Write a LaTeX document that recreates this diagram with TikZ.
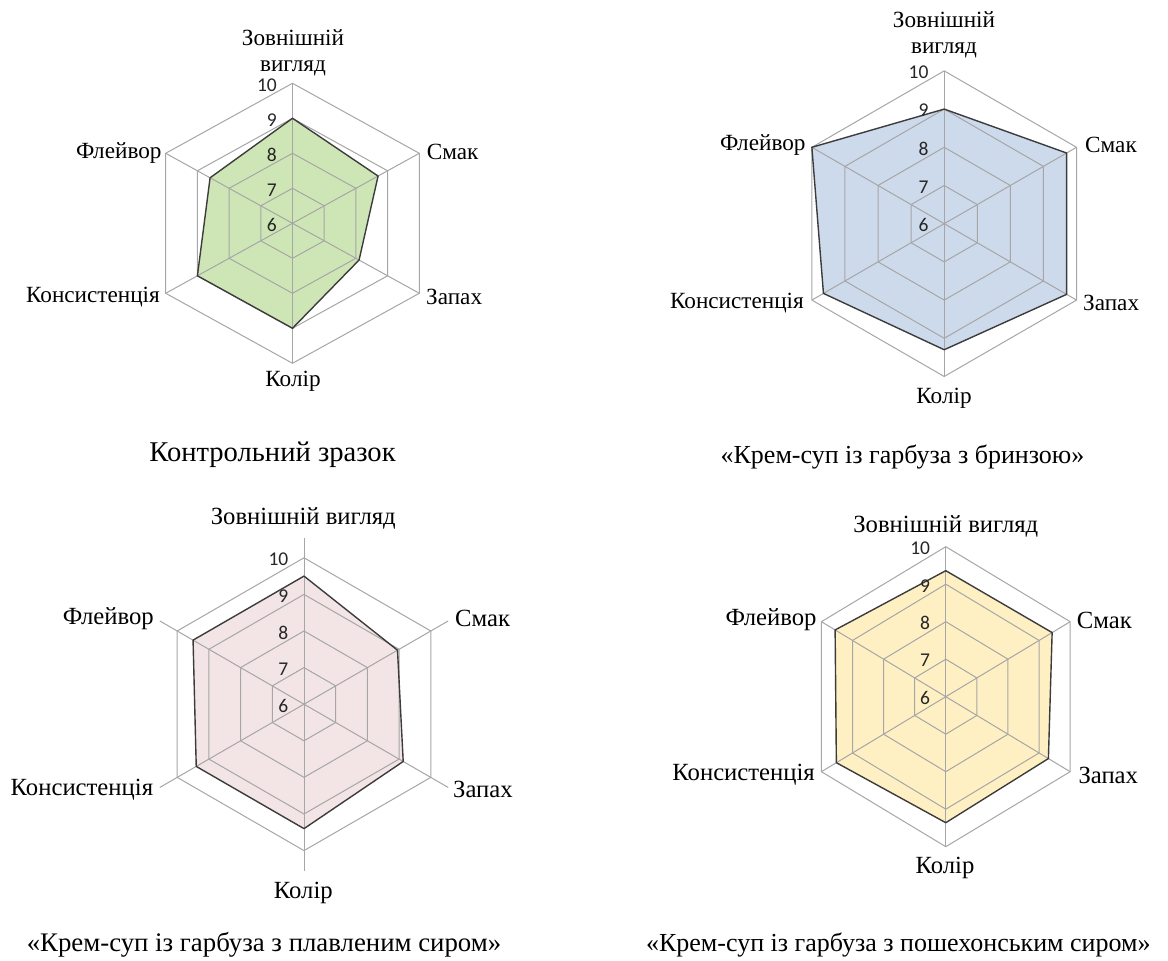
\documentclass[tikz,border=0pt]{standalone}
\usepackage{fontspec}
\setmainfont{Liberation Serif}
\newfontfamily\tickfont{Carlito}
\usepackage{tikz}
\usetikzlibrary{positioning}
\definecolor{ringgray}{RGB}{166,166,166}
\definecolor{outline}{RGB}{60,60,60}
\definecolor{ctrlgreen}{RGB}{206,230,182}
\definecolor{brynblue}{RGB}{205,218,235}
\definecolor{plavpink}{RGB}{243,229,229}
\definecolor{poshyellow}{RGB}{255,240,196}

\begin{document}
\begin{tikzpicture}[x=1pt,y=1pt,
  ringline/.style={draw=ringgray,line width=1pt},
  seriesline/.style={draw=outline,line width=1.4pt,line join=round},
  ticklabel/.style={font={\tickfont\fontsize{19.5}{19.5}\selectfont},text=black!85,anchor=east,inner sep=0pt,xshift=-15.5pt,yshift=-1.5pt},
  axislabel/.style={font={\fontsize{#1}{26}\selectfont},inner sep=0pt,align=center},
  axislabel/.default=23.2,
  caption/.style={font={\fontsize{#1}{26}\selectfont},inner sep=0pt},
  caption/.default=26]
        \useasboundingbox (0,0) rectangle (1168,961);

        % control sample
        \begin{scope}[shift={(292.5,737.7)},x=36.6pt,y=35pt]
        \fill[ctrlgreen] (90:3) -- (30:2.7) -- (-30:2.1) -- (-90:3) -- (-150:3) -- (150:2.6) -- cycle;
        \foreach \r in {1,...,4}
          \draw[ringline] (90:\r) -- (30:\r) -- (-30:\r) -- (-90:\r) -- (-150:\r) -- (150:\r) -- cycle;
        \foreach \a in {90,30,-30,-90,-150,150}
          \draw[ringline] (0,0) -- (\a:4);
        \draw[seriesline] (90:3) -- (30:2.7) -- (-30:2.1) -- (-90:3) -- (-150:3) -- (150:2.6) -- cycle;
        \foreach \v [count=\r from 0] in {6,...,10}
          \node[ticklabel] (c1t\v) at (90:\r) {\v};
        \end{scope}

        % bryndza
        \begin{scope}[shift={(944.2,737.3)},x=38.2pt,y=38.2pt]
        \fill[brynblue] (90:3) -- (30:3.7) -- (-30:3.7) -- (-90:3.3) -- (-150:3.65) -- (150:4) -- cycle;
        \foreach \r in {1,...,4}
          \draw[ringline] (90:\r) -- (30:\r) -- (-30:\r) -- (-90:\r) -- (-150:\r) -- (150:\r) -- cycle;
        \foreach \a in {90,30,-30,-90,-150,150}
          \draw[ringline] (0,0) -- (\a:4);
        \draw[seriesline] (90:3) -- (30:3.7) -- (-30:3.7) -- (-90:3.3) -- (-150:3.65) -- (150:4) -- cycle;
        \foreach \v [count=\r from 0] in {6,...,10}
          \node[ticklabel] (c2t\v) at (90:\r) {\v};
        \end{scope}

        % processed cheese
        \begin{scope}[shift={(304,256.8)},x=36.6pt,y=36.6pt]
        \fill[plavpink] (90:3.5) -- (30:2.95) -- (-30:3.13) -- (-90:3.4) -- (-150:3.4) -- (150:3.5) -- cycle;
        \foreach \r in {1,...,4}
          \draw[ringline] (90:\r) -- (30:\r) -- (-30:\r) -- (-90:\r) -- (-150:\r) -- (150:\r) -- cycle;
        \foreach \a in {90,30,-30,-90,-150,150}
          \draw[ringline] (0,0) -- (\a:4.55);
        \draw[seriesline] (90:3.5) -- (30:2.95) -- (-30:3.13) -- (-90:3.4) -- (-150:3.4) -- (150:3.5) -- cycle;
        \foreach \v [count=\r from 0] in {6,...,10}
          \node[ticklabel] (c3t\v) at (90:\r) {\v};
        \end{scope}

        % poshekhonsky cheese
        \begin{scope}[shift={(945.8,264.3)},x=35.9pt,y=37.5pt]
        \fill[poshyellow] (90:3.36) -- (30:3.42) -- (-30:3.3) -- (-90:3.36) -- (-150:3.52) -- (150:3.56) -- cycle;
        \foreach \r in {1,...,4}
          \draw[ringline] (90:\r) -- (30:\r) -- (-30:\r) -- (-90:\r) -- (-150:\r) -- (150:\r) -- cycle;
        \foreach \a in {90,30,-30,-90,-150,150}
          \draw[ringline] (0,0) -- (\a:4);
        \draw[seriesline] (90:3.36) -- (30:3.42) -- (-30:3.3) -- (-90:3.36) -- (-150:3.52) -- (150:3.56) -- cycle;
        \foreach \v [count=\r from 0] in {6,...,10}
          \node[ticklabel] (c4t\v) at (90:\r) {\v};
        \end{scope}

        % axis names
        \node[axislabel] (c1look) at (293,908.5) {Зовнішній\\вигляд};
        \node[axislabel,anchor=west] (c1taste) at (426.7,809.3) {Смак};
        \node[axislabel,anchor=west] (c1smell) at (426,664.3) {Запах};
        \node[axislabel] (c1colour) at (293,579.3) {Колір};
        \node[axislabel,anchor=east] (c1texture) at (160,664.3) {Консистенція};
        \node[axislabel,anchor=east] (c1flavour) at (161.7,807.7) {Флейвор};

        \node[axislabel] (c2look) at (944,926) {Зовнішній\\вигляд};
        \node[axislabel,anchor=west] (c2taste) at (1085,816) {Смак};
        \node[axislabel,anchor=west] (c2smell) at (1083,658) {Запах};
        \node[axislabel] (c2colour) at (944,563) {Колір};
        \node[axislabel,anchor=east] (c2texture) at (804,658) {Консистенція};
        \node[axislabel,anchor=east] (c2flavour) at (805.7,816) {Флейвор};

        \node[axislabel=24.7] (c3look) at (303.3,443) {Зовнішній вигляд};
        \node[axislabel=24.7,anchor=west] (c3taste) at (455,343) {Смак};
        \node[axislabel=24.7,anchor=west] (c3smell) at (453,171.7) {Запах};
        \node[axislabel=24.7] (c3colour) at (303.3,68.3) {Колір};
        \node[axislabel=24.7,anchor=east] (c3texture) at (153.3,171.7) {Консистенція};
        \node[axislabel=24.7,anchor=east] (c3flavour) at (154,342.7) {Флейвор};

        \node[axislabel=24.7] (c4look) at (945.8,434.3) {Зовнішній вигляд};
        \node[axislabel=24.7,anchor=west] (c4taste) at (1076.7,341) {Смак};
        \node[axislabel=24.7,anchor=west] (c4smell) at (1078.3,186) {Запах};
        \node[axislabel=24.7] (c4colour) at (945,92.7) {Колір};
        \node[axislabel=24.7,anchor=east] (c4texture) at (815,186) {Консистенція};
        \node[axislabel=24.7,anchor=east] (c4flavour) at (816.7,341) {Флейвор};

        % captions
        \node[caption=28.6] (cap1) at (272.5,506) {Контрольний зразок};
        \node[caption] (cap2) at (902.5,504.3) {«Крем-суп із гарбуза з бринзою»};
        \node[caption=26.8] (cap3) at (264,16) {«Крем-суп із гарбуза з плавленим сиром»};
        \node[caption] (cap4) at (898.3,16) {«Крем-суп із гарбуза з пошехонським сиром»};
\end{tikzpicture}
\end{document}
